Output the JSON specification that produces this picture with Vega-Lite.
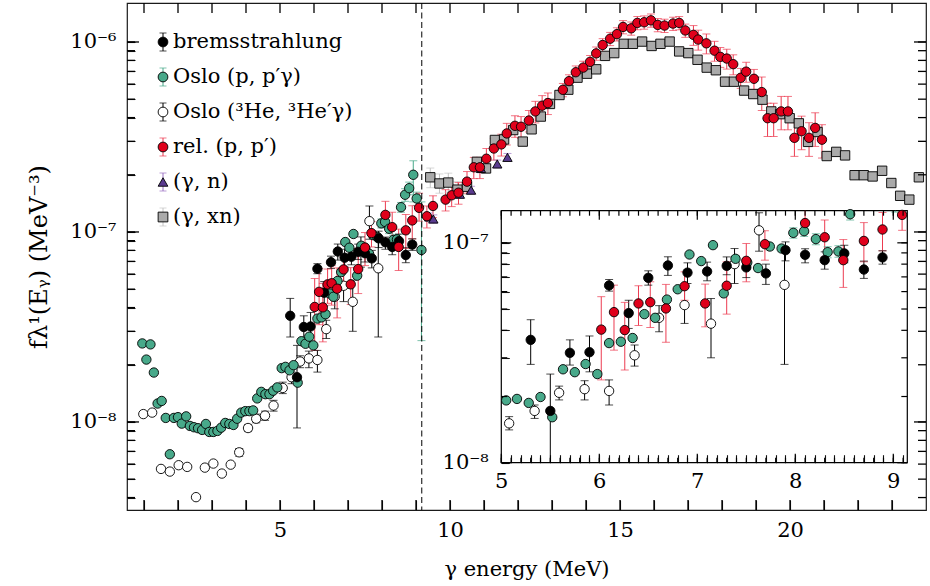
{
"$schema":"https://vega.github.io/schema/vega-lite/v6.json",
"width":799,"height":507,
"autosize":"none",
"padding":{"left":127,"top":3,"right":4,"bottom":76},
"background":"white",
"datasets":{
"leg":[{"s":"bremsstrahlung"},{"s":"Oslo (p, p′γ)"},{"s":"Oslo (³He, ³He′γ)"},{"s":"rel. (p, p′)"},{"s":"(γ, n)"},{"s":"(γ, xn)"}],
"mx":[{"v":1},{"v":2},{"v":3},{"v":4},{"v":5},{"v":6},{"v":7},{"v":8},{"v":9},{"v":10},{"v":11},{"v":12},{"v":13},{"v":14},{"v":15},{"v":16},{"v":17},{"v":18},{"v":19},{"v":20},{"v":21},{"v":22},{"v":23}],
"my":[{"v":4e-9},{"v":5e-9},{"v":6e-9},{"v":7e-9},{"v":8e-9},{"v":9e-9},{"v":1e-8},{"v":2e-8},{"v":3e-8},{"v":4e-8},{"v":5e-8},{"v":6e-8},{"v":7e-8},{"v":8e-8},{"v":9e-8},{"v":1e-7},{"v":2e-7},{"v":3e-7},{"v":4e-7},{"v":5e-7},{"v":6e-7},{"v":7e-7},{"v":8e-7},{"v":9e-7},{"v":1e-6}],
"mym":[{"v":1e-8},{"v":1e-7},{"v":1e-6}],
"ix":[{"v":5},{"v":5.1},{"v":5.2},{"v":5.3},{"v":5.4},{"v":5.5},{"v":5.6},{"v":5.7},{"v":5.8},{"v":5.9},{"v":6},{"v":6.1},{"v":6.2},{"v":6.3},{"v":6.4},{"v":6.5},{"v":6.6},{"v":6.7},{"v":6.8},{"v":6.9},{"v":7},{"v":7.1},{"v":7.2},{"v":7.3},{"v":7.4},{"v":7.5},{"v":7.6},{"v":7.7},{"v":7.8},{"v":7.9},{"v":8},{"v":8.1},{"v":8.2},{"v":8.3},{"v":8.4},{"v":8.5},{"v":8.6},{"v":8.7},{"v":8.8},{"v":8.9},{"v":9},{"v":9.1}],
"ixm":[{"v":5},{"v":6},{"v":7},{"v":8},{"v":9}],
"iy":[{"v":1e-8},{"v":2e-8},{"v":3e-8},{"v":4e-8},{"v":5e-8},{"v":6e-8},{"v":7e-8},{"v":8e-8},{"v":9e-8},{"v":1e-7}],
"iym":[{"v":1e-8},{"v":1e-7}],
"d":[
{"s":"(γ, xn)","E":9.42,"f":1.94e-7,"lo":1.71e-7,"hi":2.17e-7},
{"s":"(γ, xn)","E":9.69,"f":1.80e-7,"lo":1.60e-7,"hi":2.02e-7},
{"s":"(γ, xn)","E":9.95,"f":1.82e-7,"lo":1.62e-7,"hi":2.04e-7},
{"s":"(γ, xn)","E":10.22,"f":1.67e-7,"lo":1.52e-7,"hi":1.84e-7},
{"s":"(γ, xn)","E":10.50,"f":1.73e-7,"lo":1.58e-7,"hi":1.90e-7},
{"s":"(γ, xn)","E":10.79,"f":2.34e-7,"lo":2.22e-7,"hi":2.46e-7},
{"s":"(γ, xn)","E":11.06,"f":2.16e-7,"lo":2.05e-7,"hi":2.27e-7},
{"s":"(γ, xn)","E":11.32,"f":3.05e-7,"lo":2.90e-7,"hi":3.20e-7},
{"s":"(γ, xn)","E":11.59,"f":3.07e-7,"lo":2.92e-7,"hi":3.22e-7},
{"s":"(γ, xn)","E":11.86,"f":3.44e-7,"lo":3.27e-7,"hi":3.61e-7},
{"s":"(γ, xn)","E":12.14,"f":2.99e-7,"lo":2.84e-7,"hi":3.14e-7},
{"s":"(γ, xn)","E":12.40,"f":3.47e-7,"lo":3.30e-7,"hi":3.64e-7},
{"s":"(γ, xn)","E":12.67,"f":4.05e-7,"lo":3.85e-7,"hi":4.25e-7},
{"s":"(γ, xn)","E":12.94,"f":4.72e-7,"lo":4.48e-7,"hi":4.96e-7},
{"s":"(γ, xn)","E":13.22,"f":5.26e-7,"lo":5.00e-7,"hi":5.52e-7},
{"s":"(γ, xn)","E":13.48,"f":5.61e-7,"lo":5.33e-7,"hi":5.89e-7},
{"s":"(γ, xn)","E":13.75,"f":6.49e-7,"lo":6.17e-7,"hi":6.81e-7},
{"s":"(γ, xn)","E":14.03,"f":6.81e-7,"lo":6.47e-7,"hi":7.15e-7},
{"s":"(γ, xn)","E":14.30,"f":7.18e-7,"lo":6.82e-7,"hi":7.54e-7},
{"s":"(γ, xn)","E":14.56,"f":8.45e-7,"lo":8.03e-7,"hi":8.87e-7},
{"s":"(γ, xn)","E":14.83,"f":8.74e-7,"lo":8.30e-7,"hi":9.18e-7},
{"s":"(γ, xn)","E":15.11,"f":9.78e-7,"lo":9.29e-7,"hi":1.027e-6},
{"s":"(γ, xn)","E":15.38,"f":9.78e-7,"lo":9.29e-7,"hi":1.027e-6},
{"s":"(γ, xn)","E":15.65,"f":1.005e-6,"lo":9.55e-7,"hi":1.055e-6},
{"s":"(γ, xn)","E":15.93,"f":9.53e-7,"lo":9.05e-7,"hi":1.001e-6},
{"s":"(γ, xn)","E":16.19,"f":9.78e-7,"lo":9.29e-7,"hi":1.027e-6},
{"s":"(γ, xn)","E":16.46,"f":1.005e-6,"lo":9.55e-7,"hi":1.055e-6},
{"s":"(γ, xn)","E":16.74,"f":8.92e-7,"lo":8.47e-7,"hi":9.37e-7},
{"s":"(γ, xn)","E":17.01,"f":8.74e-7,"lo":8.30e-7,"hi":9.18e-7},
{"s":"(γ, xn)","E":17.28,"f":8.06e-7,"lo":7.66e-7,"hi":8.46e-7},
{"s":"(γ, xn)","E":17.55,"f":7.33e-7,"lo":6.96e-7,"hi":7.70e-7},
{"s":"(γ, xn)","E":17.82,"f":7.10e-7,"lo":6.75e-7,"hi":7.46e-7},
{"s":"(γ, xn)","E":18.09,"f":6.18e-7,"lo":5.87e-7,"hi":6.49e-7},
{"s":"(γ, xn)","E":18.35,"f":6.18e-7,"lo":5.87e-7,"hi":6.49e-7},
{"s":"(γ, xn)","E":18.65,"f":5.55e-7,"lo":5.27e-7,"hi":5.83e-7},
{"s":"(γ, xn)","E":18.92,"f":5.32e-7,"lo":5.05e-7,"hi":5.59e-7},
{"s":"(γ, xn)","E":19.19,"f":4.97e-7,"lo":4.72e-7,"hi":5.22e-7},
{"s":"(γ, xn)","E":19.45,"f":4.31e-7,"lo":4.09e-7,"hi":4.53e-7},
{"s":"(γ, xn)","E":19.71,"f":4.17e-7,"lo":3.96e-7,"hi":4.38e-7},
{"s":"(γ, xn)","E":19.99,"f":3.97e-7,"lo":3.77e-7,"hi":4.17e-7},
{"s":"(γ, xn)","E":20.26,"f":3.73e-7,"lo":3.54e-7,"hi":3.92e-7},
{"s":"(γ, xn)","E":20.53,"f":2.98e-7,"lo":2.83e-7,"hi":3.13e-7},
{"s":"(γ, xn)","E":20.81,"f":3.36e-7,"lo":3.19e-7,"hi":3.53e-7},
{"s":"(γ, xn)","E":21.08,"f":2.51e-7,"lo":2.38e-7,"hi":2.64e-7},
{"s":"(γ, xn)","E":21.36,"f":2.64e-7,"lo":2.51e-7,"hi":2.77e-7},
{"s":"(γ, xn)","E":21.62,"f":2.53e-7,"lo":2.40e-7,"hi":2.66e-7},
{"s":"(γ, xn)","E":21.90,"f":1.99e-7,"lo":1.89e-7,"hi":2.09e-7},
{"s":"(γ, xn)","E":22.17,"f":1.99e-7,"lo":1.89e-7,"hi":2.09e-7},
{"s":"(γ, xn)","E":22.43,"f":1.96e-7,"lo":1.86e-7,"hi":2.06e-7},
{"s":"(γ, xn)","E":22.71,"f":2.10e-7,"lo":2.00e-7,"hi":2.21e-7},
{"s":"(γ, xn)","E":22.98,"f":1.81e-7,"lo":1.72e-7,"hi":1.90e-7},
{"s":"(γ, xn)","E":23.24,"f":1.55e-7,"lo":1.47e-7,"hi":1.63e-7},
{"s":"(γ, xn)","E":23.51,"f":1.48e-7,"lo":1.41e-7,"hi":1.55e-7},
{"s":"(γ, xn)","E":23.79,"f":1.94e-7,"lo":1.84e-7,"hi":2.04e-7},
{"s":"(γ, n)","E":9.39,"f":1.20e-7,"lo":1.14e-7,"hi":1.26e-7},
{"s":"(γ, n)","E":9.51,"f":1.17e-7,"lo":1.11e-7,"hi":1.23e-7},
{"s":"(γ, n)","E":10.29,"f":1.58e-7,"lo":1.50e-7,"hi":1.66e-7},
{"s":"(γ, n)","E":10.62,"f":1.66e-7,"lo":1.58e-7,"hi":1.74e-7},
{"s":"(γ, n)","E":10.91,"f":2.16e-7,"lo":2.05e-7,"hi":2.27e-7},
{"s":"(γ, n)","E":11.39,"f":2.28e-7,"lo":2.17e-7,"hi":2.39e-7},
{"s":"(γ, n)","E":11.69,"f":2.47e-7,"lo":2.35e-7,"hi":2.59e-7},
{"s":"Oslo (³He, ³He′γ)","E":0.98,"f":1.10e-8},
{"s":"Oslo (³He, ³He′γ)","E":1.24,"f":1.12e-8},
{"s":"Oslo (³He, ³He′γ)","E":1.50,"f":5.66e-9},
{"s":"Oslo (³He, ³He′γ)","E":1.76,"f":5.48e-9},
{"s":"Oslo (³He, ³He′γ)","E":2.02,"f":5.92e-9},
{"s":"Oslo (³He, ³He′γ)","E":2.27,"f":5.80e-9},
{"s":"Oslo (³He, ³He′γ)","E":2.53,"f":4.02e-9},
{"s":"Oslo (³He, ³He′γ)","E":2.79,"f":5.75e-9},
{"s":"Oslo (³He, ³He′γ)","E":3.04,"f":6.04e-9},
{"s":"Oslo (³He, ³He′γ)","E":3.29,"f":5.35e-9},
{"s":"Oslo (³He, ³He′γ)","E":3.55,"f":5.96e-9},
{"s":"Oslo (³He, ³He′γ)","E":3.80,"f":6.92e-9,"lo":6.6e-9,"hi":7.25e-9},
{"s":"Oslo (³He, ³He′γ)","E":4.06,"f":9.29e-9,"lo":8.9e-9,"hi":9.7e-9},
{"s":"Oslo (³He, ³He′γ)","E":4.30,"f":1.04e-8,"lo":0.99e-8,"hi":1.10e-8},
{"s":"Oslo (³He, ³He′γ)","E":4.56,"f":1.08e-8,"lo":1.02e-8,"hi":1.14e-8},
{"s":"Oslo (³He, ³He′γ)","E":4.81,"f":1.22e-8,"lo":1.14e-8,"hi":1.30e-8},
{"s":"Oslo (³He, ³He′γ)","E":5.08,"f":1.51e-8,"lo":1.41e-8,"hi":1.62e-8},
{"s":"Oslo (³He, ³He′γ)","E":5.34,"f":1.72e-8,"lo":1.59e-8,"hi":1.83e-8},
{"s":"Oslo (³He, ³He′γ)","E":5.59,"f":2.08e-8,"lo":1.93e-8,"hi":2.23e-8},
{"s":"Oslo (³He, ³He′γ)","E":5.85,"f":2.16e-8,"lo":1.93e-8,"hi":2.36e-8},
{"s":"Oslo (³He, ³He′γ)","E":6.10,"f":2.12e-8,"lo":1.83e-8,"hi":2.38e-8},
{"s":"Oslo (³He, ³He′γ)","E":6.36,"f":3.08e-8,"lo":2.75e-8,"hi":3.43e-8},
{"s":"Oslo (³He, ³He′γ)","E":6.61,"f":4.56e-8,"lo":3.94e-8,"hi":5.18e-8},
{"s":"Oslo (³He, ³He′γ)","E":6.87,"f":5.21e-8,"lo":4.30e-8,"hi":6.31e-8},
{"s":"Oslo (³He, ³He′γ)","E":7.14,"f":4.29e-8,"lo":3.00e-8,"hi":5.58e-8},
{"s":"Oslo (³He, ³He′γ)","E":7.38,"f":8.0e-8,"lo":6.53e-8,"hi":9.42e-8},
{"s":"Oslo (³He, ³He′γ)","E":7.63,"f":1.14e-7,"lo":9.16e-8,"hi":1.37e-7},
{"s":"Oslo (³He, ³He′γ)","E":7.89,"f":6.44e-8,"lo":2.8e-8,"hi":9.6e-8},
{"s":"Oslo (p, p′γ)","E":0.95,"f":2.59e-8},
{"s":"Oslo (p, p′γ)","E":1.07,"f":2.13e-8},
{"s":"Oslo (p, p′γ)","E":1.19,"f":2.56e-8},
{"s":"Oslo (p, p′γ)","E":1.29,"f":1.82e-8},
{"s":"Oslo (p, p′γ)","E":1.40,"f":1.25e-8},
{"s":"Oslo (p, p′γ)","E":1.52,"f":1.29e-8},
{"s":"Oslo (p, p′γ)","E":1.64,"f":1.05e-8},
{"s":"Oslo (p, p′γ)","E":1.76,"f":6.76e-9},
{"s":"Oslo (p, p′γ)","E":1.88,"f":1.05e-8},
{"s":"Oslo (p, p′γ)","E":2.00,"f":1.06e-8},
{"s":"Oslo (p, p′γ)","E":2.11,"f":9.8e-9},
{"s":"Oslo (p, p′γ)","E":2.24,"f":1.07e-8},
{"s":"Oslo (p, p′γ)","E":2.35,"f":9.53e-9},
{"s":"Oslo (p, p′γ)","E":2.47,"f":9.38e-9},
{"s":"Oslo (p, p′γ)","E":2.59,"f":9.27e-9},
{"s":"Oslo (p, p′γ)","E":2.71,"f":9.08e-9},
{"s":"Oslo (p, p′γ)","E":2.82,"f":9.76e-9},
{"s":"Oslo (p, p′γ)","E":2.92,"f":8.86e-9},
{"s":"Oslo (p, p′γ)","E":3.04,"f":8.86e-9},
{"s":"Oslo (p, p′γ)","E":3.16,"f":8.97e-9},
{"s":"Oslo (p, p′γ)","E":3.27,"f":9.33e-9},
{"s":"Oslo (p, p′γ)","E":3.39,"f":9.88e-9},
{"s":"Oslo (p, p′γ)","E":3.51,"f":9.76e-9},
{"s":"Oslo (p, p′γ)","E":3.63,"f":9.64e-9},
{"s":"Oslo (p, p′γ)","E":3.74,"f":1.04e-8},
{"s":"Oslo (p, p′γ)","E":3.86,"f":1.12e-8},
{"s":"Oslo (p, p′γ)","E":3.98,"f":1.14e-8},
{"s":"Oslo (p, p′γ)","E":4.10,"f":1.14e-8},
{"s":"Oslo (p, p′γ)","E":4.21,"f":1.15e-8},
{"s":"Oslo (p, p′γ)","E":4.33,"f":1.33e-8},
{"s":"Oslo (p, p′γ)","E":4.45,"f":1.44e-8},
{"s":"Oslo (p, p′γ)","E":4.57,"f":1.40e-8},
{"s":"Oslo (p, p′γ)","E":4.69,"f":1.40e-8},
{"s":"Oslo (p, p′γ)","E":4.80,"f":1.46e-8},
{"s":"Oslo (p, p′γ)","E":4.92,"f":1.52e-8},
{"s":"Oslo (p, p′γ)","E":5.05,"f":1.92e-8},
{"s":"Oslo (p, p′γ)","E":5.16,"f":1.95e-8},
{"s":"Oslo (p, p′γ)","E":5.28,"f":1.87e-8},
{"s":"Oslo (p, p′γ)","E":5.40,"f":1.99e-8},
{"s":"Oslo (p, p′γ)","E":5.52,"f":1.61e-8},
{"s":"Oslo (p, p′γ)","E":5.63,"f":2.66e-8},
{"s":"Oslo (p, p′γ)","E":5.75,"f":2.58e-8},
{"s":"Oslo (p, p′γ)","E":5.86,"f":2.81e-8},
{"s":"Oslo (p, p′γ)","E":5.98,"f":2.53e-8},
{"s":"Oslo (p, p′γ)","E":6.10,"f":3.50e-8},
{"s":"Oslo (p, p′γ)","E":6.22,"f":3.55e-8},
{"s":"Oslo (p, p′γ)","E":6.34,"f":3.69e-8},
{"s":"Oslo (p, p′γ)","E":6.46,"f":4.74e-8},
{"s":"Oslo (p, p′γ)","E":6.57,"f":4.56e-8},
{"s":"Oslo (p, p′γ)","E":6.69,"f":5.52e-8},
{"s":"Oslo (p, p′γ)","E":6.80,"f":6.15e-8},
{"s":"Oslo (p, p′γ)","E":6.92,"f":8.85e-8},
{"s":"Oslo (p, p′γ)","E":7.04,"f":8.26e-8},
{"s":"Oslo (p, p′γ)","E":7.16,"f":9.76e-8},
{"s":"Oslo (p, p′γ)","E":7.27,"f":5.89e-8},
{"s":"Oslo (p, p′γ)","E":7.39,"f":8.46e-8,"lo":8.17e-8,"hi":8.75e-8},
{"s":"Oslo (p, p′γ)","E":7.51,"f":8.14e-8,"lo":7.86e-8,"hi":8.42e-8},
{"s":"Oslo (p, p′γ)","E":7.62,"f":7.68e-8,"lo":7.42e-8,"hi":7.94e-8},
{"s":"Oslo (p, p′γ)","E":7.74,"f":9.62e-8,"lo":9.29e-8,"hi":9.95e-8},
{"s":"Oslo (p, p′γ)","E":7.86,"f":9.42e-8,"lo":9.10e-8,"hi":9.74e-8},
{"s":"Oslo (p, p′γ)","E":7.98,"f":1.11e-7,"lo":1.05e-7,"hi":1.17e-7},
{"s":"Oslo (p, p′γ)","E":8.09,"f":1.13e-7,"lo":1.07e-7,"hi":1.19e-7},
{"s":"Oslo (p, p′γ)","E":8.21,"f":1.04e-7,"lo":0.98e-7,"hi":1.10e-7},
{"s":"Oslo (p, p′γ)","E":8.33,"f":9.07e-8,"lo":8.55e-8,"hi":9.6e-8},
{"s":"Oslo (p, p′γ)","E":8.44,"f":9.14e-8,"lo":8.6e-8,"hi":9.7e-8},
{"s":"Oslo (p, p′γ)","E":8.56,"f":1.35e-7,"lo":1.27e-7,"hi":1.43e-7},
{"s":"Oslo (p, p′γ)","E":8.68,"f":1.57e-7,"lo":1.45e-7,"hi":1.69e-7},
{"s":"Oslo (p, p′γ)","E":8.80,"f":1.70e-7,"lo":1.57e-7,"hi":1.83e-7},
{"s":"Oslo (p, p′γ)","E":8.92,"f":2.0e-7,"lo":1.44e-7,"hi":2.37e-7},
{"s":"Oslo (p, p′γ)","E":9.02,"f":1.50e-7,"lo":1.38e-7,"hi":1.62e-7},
{"s":"Oslo (p, p′γ)","E":9.16,"f":8.04e-8,"lo":2.68e-8,"hi":1.44e-7},
{"s":"bremsstrahlung","E":5.30,"f":3.62e-8,"lo":2.80e-8,"hi":4.47e-8},
{"s":"bremsstrahlung","E":5.50,"f":1.72e-8,"lo":9.3e-9,"hi":2.53e-8},
{"s":"bremsstrahlung","E":5.70,"f":3.16e-8,"lo":2.78e-8,"hi":3.62e-8},
{"s":"bremsstrahlung","E":5.90,"f":3.18e-8,"lo":2.59e-8,"hi":3.77e-8},
{"s":"bremsstrahlung","E":6.10,"f":6.40e-8,"lo":6.03e-8,"hi":6.81e-8},
{"s":"bremsstrahlung","E":6.30,"f":4.79e-8,"lo":4.08e-8,"hi":5.48e-8},
{"s":"bremsstrahlung","E":6.50,"f":6.93e-8,"lo":6.42e-8,"hi":7.46e-8},
{"s":"bremsstrahlung","E":6.70,"f":7.89e-8,"lo":7.11e-8,"hi":8.64e-8},
{"s":"bremsstrahlung","E":6.90,"f":7.32e-8,"lo":6.53e-8,"hi":8.11e-8},
{"s":"bremsstrahlung","E":7.10,"f":7.41e-8,"lo":6.72e-8,"hi":8.17e-8},
{"s":"bremsstrahlung","E":7.30,"f":7.86e-8,"lo":7.16e-8,"hi":8.63e-8},
{"s":"bremsstrahlung","E":7.50,"f":7.73e-8,"lo":6.95e-8,"hi":8.49e-8},
{"s":"bremsstrahlung","E":7.70,"f":7.26e-8,"lo":6.47e-8,"hi":8.0e-8},
{"s":"bremsstrahlung","E":7.90,"f":9.26e-8,"lo":8.28e-8,"hi":1.01e-7},
{"s":"bremsstrahlung","E":8.10,"f":8.82e-8,"lo":8.11e-8,"hi":9.40e-8},
{"s":"bremsstrahlung","E":8.30,"f":8.34e-8,"lo":7.59e-8,"hi":9.10e-8},
{"s":"bremsstrahlung","E":8.50,"f":8.95e-8,"lo":8.11e-8,"hi":9.75e-8},
{"s":"bremsstrahlung","E":8.70,"f":7.56e-8,"lo":6.89e-8,"hi":8.26e-8},
{"s":"bremsstrahlung","E":8.89,"f":8.58e-8,"lo":8.0e-8,"hi":9.2e-8},
{"s":"rel. (p, p′)","E":6.02,"f":4.03e-8,"lo":2.38e-8,"hi":5.69e-8},
{"s":"rel. (p, p′)","E":6.15,"f":4.84e-8,"lo":3.25e-8,"hi":6.42e-8},
{"s":"rel. (p, p′)","E":6.26,"f":4.01e-8,"lo":2.64e-8,"hi":5.36e-8},
{"s":"rel. (p, p′)","E":6.40,"f":5.30e-8,"lo":4.21e-8,"hi":6.38e-8},
{"s":"rel. (p, p′)","E":6.52,"f":5.37e-8,"lo":4.12e-8,"hi":6.65e-8},
{"s":"rel. (p, p′)","E":6.68,"f":5.03e-8,"lo":3.53e-8,"hi":6.47e-8},
{"s":"rel. (p, p′)","E":6.87,"f":6.35e-8,"lo":5.48e-8,"hi":7.38e-8},
{"s":"rel. (p, p′)","E":7.08,"f":5.30e-8,"lo":4.15e-8,"hi":6.49e-8},
{"s":"rel. (p, p′)","E":7.30,"f":6.38e-8,"lo":4.74e-8,"hi":8.20e-8},
{"s":"rel. (p, p′)","E":7.50,"f":8.28e-8,"lo":6.65e-8,"hi":9.93e-8},
{"s":"rel. (p, p′)","E":7.69,"f":9.86e-8,"lo":8.34e-8,"hi":1.135e-7},
{"s":"rel. (p, p′)","E":8.10,"f":1.23e-7,"lo":1.11e-7,"hi":1.45e-7},
{"s":"rel. (p, p′)","E":8.30,"f":1.06e-7,"lo":8.63e-8,"hi":1.27e-7},
{"s":"rel. (p, p′)","E":8.49,"f":8.34e-8,"lo":6.27e-8,"hi":1.035e-7},
{"s":"rel. (p, p′)","E":8.70,"f":1.02e-7,"lo":8.20e-8,"hi":1.236e-7},
{"s":"rel. (p, p′)","E":8.89,"f":1.15e-7,"lo":9.2e-8,"hi":1.374e-7},
{"s":"rel. (p, p′)","E":9.09,"f":1.34e-7,"lo":1.14e-7,"hi":1.6e-7},
{"s":"rel. (p, p′)","E":9.32,"f":1.21e-7,"lo":1.05e-7,"hi":1.37e-7},
{"s":"rel. (p, p′)","E":9.50,"f":1.37e-7,"lo":1.19e-7,"hi":1.55e-7},
{"s":"rel. (p, p′)","E":9.87,"f":1.48e-7,"lo":1.29e-7,"hi":1.67e-7},
{"s":"rel. (p, p′)","E":10.05,"f":1.56e-7,"lo":1.36e-7,"hi":1.76e-7},
{"s":"rel. (p, p′)","E":10.25,"f":1.61e-7,"lo":1.40e-7,"hi":1.82e-7},
{"s":"rel. (p, p′)","E":10.50,"f":1.84e-7,"lo":1.60e-7,"hi":2.08e-7},
{"s":"rel. (p, p′)","E":10.70,"f":2.19e-7,"lo":1.91e-7,"hi":2.47e-7},
{"s":"rel. (p, p′)","E":10.88,"f":2.19e-7,"lo":1.91e-7,"hi":2.47e-7},
{"s":"rel. (p, p′)","E":11.07,"f":2.43e-7,"lo":2.11e-7,"hi":2.75e-7},
{"s":"rel. (p, p′)","E":11.29,"f":2.75e-7,"lo":2.39e-7,"hi":3.11e-7},
{"s":"rel. (p, p′)","E":11.51,"f":2.89e-7,"lo":2.51e-7,"hi":3.27e-7},
{"s":"rel. (p, p′)","E":11.67,"f":3.30e-7,"lo":2.87e-7,"hi":3.73e-7},
{"s":"rel. (p, p′)","E":11.91,"f":3.62e-7,"lo":3.15e-7,"hi":4.09e-7},
{"s":"rel. (p, p′)","E":12.09,"f":3.58e-7,"lo":3.11e-7,"hi":4.05e-7},
{"s":"rel. (p, p′)","E":12.32,"f":3.86e-7,"lo":3.36e-7,"hi":4.36e-7},
{"s":"rel. (p, p′)","E":12.51,"f":4.31e-7,"lo":3.75e-7,"hi":4.87e-7},
{"s":"rel. (p, p′)","E":12.71,"f":4.62e-7,"lo":4.02e-7,"hi":5.22e-7},
{"s":"rel. (p, p′)","E":12.88,"f":4.77e-7,"lo":4.15e-7,"hi":5.39e-7},
{"s":"rel. (p, p′)","E":13.32,"f":5.60e-7,"lo":5.15e-7,"hi":6.05e-7},
{"s":"rel. (p, p′)","E":13.50,"f":6.22e-7,"lo":5.72e-7,"hi":6.72e-7},
{"s":"rel. (p, p′)","E":13.70,"f":6.93e-7,"lo":6.38e-7,"hi":7.48e-7},
{"s":"rel. (p, p′)","E":13.92,"f":7.33e-7,"lo":6.74e-7,"hi":7.92e-7},
{"s":"rel. (p, p′)","E":14.12,"f":7.86e-7,"lo":7.23e-7,"hi":8.49e-7},
{"s":"rel. (p, p′)","E":14.30,"f":8.71e-7,"lo":8.01e-7,"hi":9.41e-7},
{"s":"rel. (p, p′)","E":14.49,"f":9.64e-7,"lo":8.87e-7,"hi":1.041e-6},
{"s":"rel. (p, p′)","E":14.71,"f":1.04e-6,"lo":9.57e-7,"hi":1.123e-6},
{"s":"rel. (p, p′)","E":14.91,"f":1.10e-6,"lo":1.012e-6,"hi":1.188e-6},
{"s":"rel. (p, p′)","E":15.09,"f":1.20e-6,"lo":1.104e-6,"hi":1.296e-6},
{"s":"rel. (p, p′)","E":15.33,"f":1.18e-6,"lo":1.086e-6,"hi":1.274e-6},
{"s":"rel. (p, p′)","E":15.51,"f":1.26e-6,"lo":1.159e-6,"hi":1.361e-6},
{"s":"rel. (p, p′)","E":15.71,"f":1.27e-6,"lo":1.168e-6,"hi":1.372e-6},
{"s":"rel. (p, p′)","E":15.91,"f":1.30e-6,"lo":1.196e-6,"hi":1.404e-6},
{"s":"rel. (p, p′)","E":16.11,"f":1.23e-6,"lo":1.132e-6,"hi":1.328e-6},
{"s":"rel. (p, p′)","E":16.31,"f":1.22e-6,"lo":1.122e-6,"hi":1.318e-6},
{"s":"rel. (p, p′)","E":16.56,"f":1.25e-6,"lo":1.15e-6,"hi":1.35e-6},
{"s":"rel. (p, p′)","E":16.74,"f":1.26e-6,"lo":1.159e-6,"hi":1.361e-6},
{"s":"rel. (p, p′)","E":16.92,"f":1.15e-6,"lo":1.058e-6,"hi":1.242e-6},
{"s":"rel. (p, p′)","E":17.16,"f":1.09e-6,"lo":9.6e-7,"hi":1.22e-6},
{"s":"rel. (p, p′)","E":17.30,"f":1.03e-6,"lo":9.06e-7,"hi":1.154e-6},
{"s":"rel. (p, p′)","E":17.54,"f":9.84e-7,"lo":8.66e-7,"hi":1.102e-6},
{"s":"rel. (p, p′)","E":17.78,"f":9.0e-7,"lo":7.92e-7,"hi":1.008e-6},
{"s":"rel. (p, p′)","E":17.95,"f":8.35e-7,"lo":7.35e-7,"hi":9.35e-7},
{"s":"rel. (p, p′)","E":18.14,"f":8.18e-7,"lo":7.20e-7,"hi":9.16e-7},
{"s":"rel. (p, p′)","E":18.33,"f":7.64e-7,"lo":6.72e-7,"hi":8.56e-7},
{"s":"rel. (p, p′)","E":18.55,"f":6.48e-7,"lo":5.70e-7,"hi":7.26e-7},
{"s":"rel. (p, p′)","E":18.71,"f":6.98e-7,"lo":6.14e-7,"hi":7.82e-7},
{"s":"rel. (p, p′)","E":18.94,"f":6.40e-7,"lo":5.63e-7,"hi":7.17e-7},
{"s":"rel. (p, p′)","E":19.17,"f":5.45e-7,"lo":4.36e-7,"hi":6.54e-7},
{"s":"rel. (p, p′)","E":19.34,"f":3.97e-7,"lo":3.18e-7,"hi":4.76e-7},
{"s":"rel. (p, p′)","E":19.52,"f":3.97e-7,"lo":3.18e-7,"hi":4.76e-7},
{"s":"rel. (p, p′)","E":19.74,"f":4.31e-7,"lo":3.45e-7,"hi":5.17e-7},
{"s":"rel. (p, p′)","E":19.94,"f":4.31e-7,"lo":3.45e-7,"hi":5.17e-7},
{"s":"rel. (p, p′)","E":20.13,"f":3.13e-7,"lo":2.50e-7,"hi":3.76e-7},
{"s":"rel. (p, p′)","E":20.34,"f":3.39e-7,"lo":2.71e-7,"hi":4.07e-7},
{"s":"rel. (p, p′)","E":20.56,"f":3.13e-7,"lo":2.50e-7,"hi":3.76e-7},
{"s":"rel. (p, p′)","E":20.74,"f":3.53e-7,"lo":2.82e-7,"hi":4.24e-7},
{"s":"rel. (p, p′)","E":20.94,"f":3.06e-7,"lo":2.45e-7,"hi":3.67e-7}
]},
"data":{"name":"d"},
"layer":[
{"transform":[{"filter":"isValid(datum.lo)"}],
 "mark":{"type":"rule","strokeWidth":1},
 "encoding":{
  "x":{"field":"E","type":"quantitative","scale":{"domain":[0.5,24],"nice":false,"zero":false},"axis":null},
  "y":{"field":"lo","type":"quantitative","scale":{"type":"log","domain":[3.44e-9,1.604e-6],"nice":false},"axis":null},
  "y2":{"field":"hi"},
  "color":{"field":"s","type":"nominal","scale":{"domain":["bremsstrahlung","Oslo (p, p′γ)","Oslo (³He, ³He′γ)","rel. (p, p′)","(γ, n)","(γ, xn)"],"range":["#000000","#48a98a","#000000","#ec3b50","#9a70c2","#c4c4c4"]},"legend":null}}},
{"transform":[{"filter":"isValid(datum.lo)"}],
 "mark":{"type":"tick","orient":"horizontal","size":8,"thickness":1},
 "encoding":{
  "x":{"field":"E","type":"quantitative","scale":{"domain":[0.5,24],"nice":false,"zero":false},"axis":null},
  "y":{"field":"lo","type":"quantitative","scale":{"type":"log","domain":[3.44e-9,1.604e-6],"nice":false},"axis":null},
  "color":{"field":"s","type":"nominal","legend":null}}},
{"transform":[{"filter":"isValid(datum.hi)"}],
 "mark":{"type":"tick","orient":"horizontal","size":8,"thickness":1},
 "encoding":{
  "x":{"field":"E","type":"quantitative","scale":{"domain":[0.5,24],"nice":false,"zero":false},"axis":null},
  "y":{"field":"hi","type":"quantitative","scale":{"type":"log","domain":[3.44e-9,1.604e-6],"nice":false},"axis":null},
  "color":{"field":"s","type":"nominal","legend":null}}},
{"mark":{"type":"point","filled":true,"stroke":"black","strokeWidth":0.9,"opacity":1,"size":88},
 "encoding":{
  "x":{"field":"E","type":"quantitative","scale":{"domain":[0.5,24],"nice":false,"zero":false},
       "axis":{"orient":"bottom","offset":-10,"tickSize":10,"values":[1,2,3,4,5,6,7,8,9,10,11,12,13,14,15,16,17,18,19,20,21,22,23],"labelExpr":"datum.value % 5 == 0 ? datum.label : ''","labelPadding":9,"title":"γ energy (MeV)","titlePadding":18}},
  "y":{"field":"f","type":"quantitative","scale":{"type":"log","domain":[3.44e-9,1.604e-6],"nice":false},
       "axis":{"orient":"left","offset":-8,"tickSize":8,"values":[4e-9,5e-9,6e-9,7e-9,8e-9,9e-9,1e-8,2e-8,3e-8,4e-8,5e-8,6e-8,7e-8,8e-8,9e-8,1e-7,2e-7,3e-7,4e-7,5e-7,6e-7,7e-7,8e-7,9e-7,1e-6],
               "labelExpr":"datum.value == 1e-6 ? '10⁻⁶' : datum.value == 1e-7 ? '10⁻⁷' : datum.value == 1e-8 ? '10⁻⁸' : ''",
               "labelPadding":11,"title":"fλ¹(Eᵧ) (MeV⁻³)","titlePadding":18,"titleFontSize":24}},
  "fill":{"field":"s","type":"nominal","scale":{"domain":["bremsstrahlung","Oslo (p, p′γ)","Oslo (³He, ³He′γ)","rel. (p, p′)","(γ, n)","(γ, xn)"],"range":["#000000","#48a98a","#ffffff","#e0001b","#5a3b8f","#aaaaaa"]},"legend":null},
  "shape":{"field":"s","type":"nominal","scale":{"domain":["bremsstrahlung","Oslo (p, p′γ)","Oslo (³He, ³He′γ)","rel. (p, p′)","(γ, n)","(γ, xn)"],"range":["circle","circle","circle","circle","triangle-up","square"]},"legend":null}}},
{"data":{"values":[{}]},
 "mark":{"type":"rule","strokeDash":[6,3.5],"color":"black","strokeWidth":1},
 "encoding":{"x":{"datum":9.17,"type":"quantitative","scale":{"domain":[0.5,24],"nice":false,"zero":false},"axis":null}}},
{"data":{"values":[{}]},
 "mark":{"type":"rect","fill":"white","fillOpacity":0,"stroke":"black","strokeWidth":1.2},
 "encoding":{
  "x":{"datum":5,"type":"quantitative","scale":{"domain":[5,9.143],"range":[374.3,780.3],"nice":false,"zero":false},"axis":null},
  "x2":{"datum":9.143},
  "y":{"datum":1e-8,"type":"quantitative","scale":{"type":"log","domain":[1e-8,1.4e-7],"range":[459.7,207.7],"nice":false},"axis":null},
  "y2":{"datum":1.4e-7}}},
{"transform":[{"filter":"isValid(datum.lo) && datum.E >= 4.98 && datum.E <= 9.143 && datum.hi >= 1e-8 && datum.lo <= 1.4e-7"}],
 "mark":{"type":"rule","strokeWidth":1},
 "encoding":{
  "x":{"field":"E","type":"quantitative","scale":{"domain":[5,9.143],"range":[374.3,780.3],"nice":false,"zero":false,"clamp":true},"axis":null},
  "y":{"field":"lo","type":"quantitative","scale":{"type":"log","domain":[1e-8,1.4e-7],"range":[459.7,207.7],"nice":false,"clamp":true},"axis":null},
  "y2":{"field":"hi"},
  "color":{"field":"s","type":"nominal","legend":null}}},
{"transform":[{"filter":"isValid(datum.lo) && datum.E >= 4.98 && datum.E <= 9.143 && datum.lo >= 1e-8 && datum.lo <= 1.4e-7"}],
 "mark":{"type":"tick","orient":"horizontal","size":8,"thickness":1},
 "encoding":{
  "x":{"field":"E","type":"quantitative","scale":{"domain":[5,9.143],"range":[374.3,780.3],"nice":false,"zero":false},"axis":null},
  "y":{"field":"lo","type":"quantitative","scale":{"type":"log","domain":[1e-8,1.4e-7],"range":[459.7,207.7],"nice":false},"axis":null},
  "color":{"field":"s","type":"nominal","legend":null}}},
{"transform":[{"filter":"isValid(datum.hi) && datum.E >= 4.98 && datum.E <= 9.143 && datum.hi >= 1e-8 && datum.hi <= 1.4e-7"}],
 "mark":{"type":"tick","orient":"horizontal","size":8,"thickness":1},
 "encoding":{
  "x":{"field":"E","type":"quantitative","scale":{"domain":[5,9.143],"range":[374.3,780.3],"nice":false,"zero":false},"axis":null},
  "y":{"field":"hi","type":"quantitative","scale":{"type":"log","domain":[1e-8,1.4e-7],"range":[459.7,207.7],"nice":false},"axis":null},
  "color":{"field":"s","type":"nominal","legend":null}}},
{"transform":[{"filter":"datum.E >= 4.98 && datum.E <= 9.143 && datum.f >= 1e-8 && datum.f <= 1.42e-7"}],
 "mark":{"type":"point","filled":true,"stroke":"black","strokeWidth":0.9,"opacity":1,"size":88},
 "encoding":{
  "x":{"field":"E","type":"quantitative","scale":{"domain":[5,9.143],"range":[374.3,780.3],"nice":false,"zero":false},
       "axis":{"orient":"bottom","offset":-55.3,"tickSize":8,"values":[5,5.1,5.2,5.3,5.4,5.5,5.6,5.7,5.8,5.9,6,6.1,6.2,6.3,6.4,6.5,6.6,6.7,6.8,6.9,7,7.1,7.2,7.3,7.4,7.5,7.6,7.7,7.8,7.9,8,8.1,8.2,8.3,8.4,8.5,8.6,8.7,8.8,8.9,9,9.1],
               "labelExpr":"datum.value % 1 == 0 ? format(datum.value, 'd') : ''","labelPadding":8,"title":null}},
  "y":{"field":"f","type":"quantitative","scale":{"type":"log","domain":[1e-8,1.4e-7],"range":[459.7,207.7],"nice":false},
       "axis":{"orient":"left","offset":-382.3,"tickSize":8,"values":[1e-8,2e-8,3e-8,4e-8,5e-8,6e-8,7e-8,8e-8,9e-8,1e-7],
               "labelExpr":"datum.value == 1e-7 ? '10⁻⁷' : datum.value == 1e-8 ? '10⁻⁸' : ''","labelPadding":13,"title":null}},
  "fill":{"field":"s","type":"nominal","legend":null},
  "shape":{"field":"s","type":"nominal","legend":null}}},
{"data":{"name":"mx"},"mark":{"type":"rule","color":"#000000","strokeWidth":1.3},
 "encoding":{"x":{"field":"v","type":"quantitative","scale":{"domain":[0.5,24],"nice":false,"zero":false},"axis":null},
  "y":{"datum":3.44e-9,"type":"quantitative","scale":{"type":"log","domain":[3.44e-9,1.604e-6],"nice":false},"axis":null},"y2":{"datum":3.88e-9}}},
{"data":{"name":"mx"},"mark":{"type":"rule","color":"#000000","strokeWidth":1.3},
 "encoding":{"x":{"field":"v","type":"quantitative","scale":{"domain":[0.5,24],"nice":false,"zero":false},"axis":null},
  "y":{"datum":1.604e-6,"type":"quantitative","scale":{"type":"log","domain":[3.44e-9,1.604e-6],"nice":false},"axis":null},"y2":{"datum":1.421e-6}}},
{"data":{"name":"my"},"mark":{"type":"rule","color":"#000000","strokeWidth":1.3},
 "encoding":{"y":{"field":"v","type":"quantitative","scale":{"type":"log","domain":[3.44e-9,1.604e-6],"nice":false},"axis":null},
  "x":{"datum":0.5,"type":"quantitative","scale":{"domain":[0.5,24],"nice":false,"zero":false},"axis":null},"x2":{"datum":0.735}}},
{"data":{"name":"my"},"mark":{"type":"rule","color":"#000000","strokeWidth":1.3},
 "encoding":{"y":{"field":"v","type":"quantitative","scale":{"type":"log","domain":[3.44e-9,1.604e-6],"nice":false},"axis":null},
  "x":{"datum":24,"type":"quantitative","scale":{"domain":[0.5,24],"nice":false,"zero":false},"axis":null},"x2":{"datum":23.765}}},
{"data":{"name":"mym"},"mark":{"type":"rule","color":"#000000","strokeWidth":1.3},
 "encoding":{"y":{"field":"v","type":"quantitative","scale":{"type":"log","domain":[3.44e-9,1.604e-6],"nice":false},"axis":null},
  "x":{"datum":0.5,"type":"quantitative","scale":{"domain":[0.5,24],"nice":false,"zero":false},"axis":null},"x2":{"datum":0.853}}},
{"data":{"name":"mym"},"mark":{"type":"rule","color":"#000000","strokeWidth":1.3},
 "encoding":{"y":{"field":"v","type":"quantitative","scale":{"type":"log","domain":[3.44e-9,1.604e-6],"nice":false},"axis":null},
  "x":{"datum":24,"type":"quantitative","scale":{"domain":[0.5,24],"nice":false,"zero":false},"axis":null},"x2":{"datum":23.647}}},
{"data":{"name":"ix"},"mark":{"type":"rule","color":"#000000","strokeWidth":1.2},
 "encoding":{"x":{"field":"v","type":"quantitative","scale":{"domain":[5,9.143],"range":[374.3,780.3],"nice":false,"zero":false},"axis":null},
  "y":{"datum":1e-8,"type":"quantitative","scale":{"type":"log","domain":[1e-8,1.4e-7],"range":[459.7,207.7],"nice":false},"axis":null},"y2":{"datum":1.054e-8}}},
{"data":{"name":"ix"},"mark":{"type":"rule","color":"#000000","strokeWidth":1.2},
 "encoding":{"x":{"field":"v","type":"quantitative","scale":{"domain":[5,9.143],"range":[374.3,780.3],"nice":false,"zero":false},"axis":null},
  "y":{"datum":1.4e-7,"type":"quantitative","scale":{"type":"log","domain":[1e-8,1.4e-7],"range":[459.7,207.7],"nice":false},"axis":null},"y2":{"datum":1.3287e-7}}},
{"data":{"name":"ixm"},"mark":{"type":"rule","color":"#000000","strokeWidth":1.2},
 "encoding":{"x":{"field":"v","type":"quantitative","scale":{"domain":[5,9.143],"range":[374.3,780.3],"nice":false,"zero":false},"axis":null},
  "y":{"datum":1e-8,"type":"quantitative","scale":{"type":"log","domain":[1e-8,1.4e-7],"range":[459.7,207.7],"nice":false},"axis":null},"y2":{"datum":1.099e-8}}},
{"data":{"name":"ixm"},"mark":{"type":"rule","color":"#000000","strokeWidth":1.2},
 "encoding":{"x":{"field":"v","type":"quantitative","scale":{"domain":[5,9.143],"range":[374.3,780.3],"nice":false,"zero":false},"axis":null},
  "y":{"datum":1.4e-7,"type":"quantitative","scale":{"type":"log","domain":[1e-8,1.4e-7],"range":[459.7,207.7],"nice":false},"axis":null},"y2":{"datum":1.2742e-7}}},
{"data":{"name":"iy"},"mark":{"type":"rule","color":"#000000","strokeWidth":1.2},
 "encoding":{"y":{"field":"v","type":"quantitative","scale":{"type":"log","domain":[1e-8,1.4e-7],"range":[459.7,207.7],"nice":false},"axis":null},
  "x":{"datum":5,"type":"quantitative","scale":{"domain":[5,9.143],"range":[374.3,780.3],"nice":false,"zero":false},"axis":null},"x2":{"datum":5.061}}},
{"data":{"name":"iy"},"mark":{"type":"rule","color":"#000000","strokeWidth":1.2},
 "encoding":{"y":{"field":"v","type":"quantitative","scale":{"type":"log","domain":[1e-8,1.4e-7],"range":[459.7,207.7],"nice":false},"axis":null},
  "x":{"datum":9.143,"type":"quantitative","scale":{"domain":[5,9.143],"range":[374.3,780.3],"nice":false,"zero":false},"axis":null},"x2":{"datum":9.082}}},
{"data":{"name":"iym"},"mark":{"type":"rule","color":"#000000","strokeWidth":1.2},
 "encoding":{"y":{"field":"v","type":"quantitative","scale":{"type":"log","domain":[1e-8,1.4e-7],"range":[459.7,207.7],"nice":false},"axis":null},
  "x":{"datum":5,"type":"quantitative","scale":{"domain":[5,9.143],"range":[374.3,780.3],"nice":false,"zero":false},"axis":null},"x2":{"datum":5.102}}},
{"data":{"name":"iym"},"mark":{"type":"rule","color":"#000000","strokeWidth":1.2},
 "encoding":{"y":{"field":"v","type":"quantitative","scale":{"type":"log","domain":[1e-8,1.4e-7],"range":[459.7,207.7],"nice":false},"axis":null},
  "x":{"datum":9.143,"type":"quantitative","scale":{"domain":[5,9.143],"range":[374.3,780.3],"nice":false,"zero":false},"axis":null},"x2":{"datum":9.041}}},
{"data":{"name":"leg"},"mark":{"type":"rule","strokeWidth":1,"yOffset":-9,"y2Offset":9},
 "encoding":{"x":{"datum":1,"type":"quantitative","scale":{"domain":[0,1],"range":[0,36]},"axis":null},
  "y":{"field":"s","type":"nominal","scale":{"type":"point","domain":["bremsstrahlung","Oslo (p, p′γ)","Oslo (³He, ³He′γ)","rel. (p, p′)","(γ, n)","(γ, xn)"],"range":[39,214],"padding":0},"axis":null},
  "y2":{"field":"s"},
  "color":{"field":"s","type":"nominal","legend":null}}},
{"data":{"name":"leg"},"mark":{"type":"tick","orient":"horizontal","size":7,"thickness":1,"yOffset":-9},
 "encoding":{"x":{"datum":1,"type":"quantitative","scale":{"domain":[0,1],"range":[0,36]},"axis":null},
  "y":{"field":"s","type":"nominal","scale":{"type":"point","domain":["bremsstrahlung","Oslo (p, p′γ)","Oslo (³He, ³He′γ)","rel. (p, p′)","(γ, n)","(γ, xn)"],"range":[39,214],"padding":0},"axis":null},
  "color":{"field":"s","type":"nominal","legend":null}}},
{"data":{"name":"leg"},"mark":{"type":"tick","orient":"horizontal","size":7,"thickness":1,"yOffset":9},
 "encoding":{"x":{"datum":1,"type":"quantitative","scale":{"domain":[0,1],"range":[0,36]},"axis":null},
  "y":{"field":"s","type":"nominal","scale":{"type":"point","domain":["bremsstrahlung","Oslo (p, p′γ)","Oslo (³He, ³He′γ)","rel. (p, p′)","(γ, n)","(γ, xn)"],"range":[39,214],"padding":0},"axis":null},
  "color":{"field":"s","type":"nominal","legend":null}}},
{"data":{"name":"leg"},"mark":{"type":"point","filled":true,"stroke":"black","strokeWidth":0.9,"opacity":1,"size":95},
 "encoding":{"x":{"datum":1,"type":"quantitative","scale":{"domain":[0,1],"range":[0,36]},"axis":null},
  "y":{"field":"s","type":"nominal","scale":{"type":"point","domain":["bremsstrahlung","Oslo (p, p′γ)","Oslo (³He, ³He′γ)","rel. (p, p′)","(γ, n)","(γ, xn)"],"range":[39,214],"padding":0},"axis":null},
  "fill":{"field":"s","type":"nominal","legend":null},
  "shape":{"field":"s","type":"nominal","legend":null}}},
{"data":{"name":"leg"},"mark":{"type":"text","align":"left","baseline":"middle","dx":10,"font":"DejaVu Serif","fontSize":21,"color":"black"},
 "encoding":{"x":{"datum":1,"type":"quantitative","scale":{"domain":[0,1],"range":[0,36]},"axis":null},
  "y":{"field":"s","type":"nominal","scale":{"type":"point","domain":["bremsstrahlung","Oslo (p, p′γ)","Oslo (³He, ³He′γ)","rel. (p, p′)","(γ, n)","(γ, xn)"],"range":[39,214],"padding":0},"axis":null},
  "text":{"field":"s","type":"nominal"}}}
],
"resolve":{"scale":{"x":"independent","y":"independent"},"axis":{"x":"independent","y":"independent"}},
"config":{
 "font":"DejaVu Serif",
 "view":{"stroke":"#1a1a1a","strokeWidth":1.2},
 "axis":{"ticks":true,"labelFont":"DejaVu Serif","titleFont":"DejaVu Serif","labelFontSize":21,"titleFontSize":21,"titleFontWeight":"normal","labelColor":"black","titleColor":"black","tickColor":"#111111","tickWidth":1.1,"grid":false,"domain":false,"labelOverlap":false,"labelFlush":false,"labelBound":false},
 "legend":{"labelFont":"DejaVu Serif","labelColor":"black"}
}
}
